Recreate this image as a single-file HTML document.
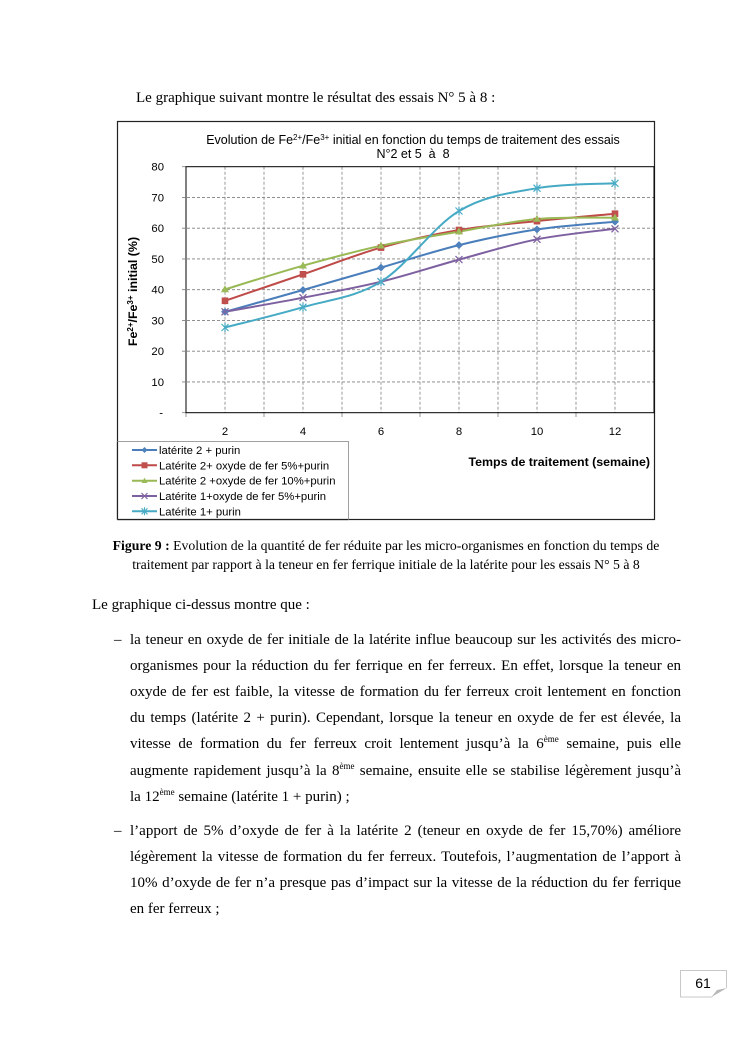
<!DOCTYPE html>
<html>
<head>
<meta charset="utf-8">
<style>
html,body{margin:0;padding:0;background:#fff;}
#page{position:relative;width:744px;height:1053px;overflow:hidden;background:#fff;}
.t{position:absolute;font-family:"Liberation Serif","Times New Roman",serif;font-size:15px;line-height:20px;color:#000;white-space:nowrap;}
.j{position:absolute;font-family:"Liberation Serif","Times New Roman",serif;font-size:15px;line-height:20px;color:#000;width:551px;left:130px;text-align:justify;text-align-last:justify;}
.l{position:absolute;font-family:"Liberation Serif","Times New Roman",serif;font-size:15px;line-height:20px;color:#000;left:130px;white-space:nowrap;}
.cap{position:absolute;font-family:"Liberation Serif","Times New Roman",serif;font-size:13.75px;line-height:18px;color:#000;left:86px;width:600px;text-align:center;white-space:nowrap;}
sup{font-size:9px;line-height:0;vertical-align:6px;}
.d{position:absolute;left:114px;font-family:"Liberation Serif",serif;font-size:15px;line-height:20px;}
svg{position:absolute;left:0;top:0;}
</style>
</head>
<body>
<div id="page">
<svg width="744" height="1053" viewBox="0 0 744 1053" xmlns="http://www.w3.org/2000/svg">
  <!-- chart frame -->
  <rect x="117.5" y="121.5" width="537" height="398" fill="#fff" stroke="#222" stroke-width="1.2"/>
  <!-- title -->
  <g font-family="Liberation Sans, Arial, sans-serif" font-size="12.5" fill="#000" text-anchor="middle">
    <text x="413" y="144">Evolution de Fe<tspan font-size="8" dy="-4">2+</tspan><tspan dy="4">/Fe</tspan><tspan font-size="8" dy="-4">3+</tspan><tspan dy="4"> initial en fonction du temps de traitement des essais</tspan></text>
    <text x="413" y="158" xml:space="preserve">N°2 et 5  à  8</text>
  </g>
  <!-- gridlines horizontal -->
  <g stroke="#808080" stroke-width="0.8" stroke-dasharray="3,2" fill="none">
    <line x1="182" y1="381.95" x2="654" y2="381.95"/>
    <line x1="182" y1="351.2" x2="654" y2="351.2"/>
    <line x1="182" y1="320.45" x2="654" y2="320.45"/>
    <line x1="182" y1="289.7" x2="654" y2="289.7"/>
    <line x1="182" y1="258.95" x2="654" y2="258.95"/>
    <line x1="182" y1="228.2" x2="654" y2="228.2"/>
    <line x1="182" y1="197.45" x2="654" y2="197.45"/>
    <line x1="225" y1="166.7" x2="225" y2="412.7"/>
    <line x1="264" y1="166.7" x2="264" y2="412.7"/>
    <line x1="303" y1="166.7" x2="303" y2="412.7"/>
    <line x1="342" y1="166.7" x2="342" y2="412.7"/>
    <line x1="381" y1="166.7" x2="381" y2="412.7"/>
    <line x1="420" y1="166.7" x2="420" y2="412.7"/>
    <line x1="459" y1="166.7" x2="459" y2="412.7"/>
    <line x1="498" y1="166.7" x2="498" y2="412.7"/>
    <line x1="537" y1="166.7" x2="537" y2="412.7"/>
    <line x1="576" y1="166.7" x2="576" y2="412.7"/>
    <line x1="615" y1="166.7" x2="615" y2="412.7"/>
  </g>
  <!-- ticks -->
  <g stroke="#808080" stroke-width="0.8">
    <line x1="182" y1="166.7" x2="186" y2="166.7"/>
    <line x1="182" y1="412.7" x2="186" y2="412.7"/>
    <line x1="186" y1="412.7" x2="186" y2="417"/>
    <line x1="264" y1="412.7" x2="264" y2="417"/>
    <line x1="342" y1="412.7" x2="342" y2="417"/>
    <line x1="420" y1="412.7" x2="420" y2="417"/>
    <line x1="498" y1="412.7" x2="498" y2="417"/>
    <line x1="576" y1="412.7" x2="576" y2="417"/>
  </g>
  <!-- plot area border -->
  <rect x="186" y="166.7" width="468" height="246" fill="none" stroke="#000" stroke-width="1"/>
  <!-- y labels -->
  <g font-family="Liberation Sans, Arial, sans-serif" font-size="11.3" fill="#000" text-anchor="end">
    <text x="164" y="170.7">80</text>
    <text x="164" y="201.5">70</text>
    <text x="164" y="232.2">60</text>
    <text x="164" y="263">50</text>
    <text x="164" y="293.7">40</text>
    <text x="164" y="324.5">30</text>
    <text x="164" y="355.2">20</text>
    <text x="164" y="386">10</text>
    <text x="163" y="416.7">-</text>
  </g>
  <!-- x labels -->
  <g font-family="Liberation Sans, Arial, sans-serif" font-size="11.3" fill="#000" text-anchor="middle">
    <text x="225" y="435">2</text>
    <text x="303" y="435">4</text>
    <text x="381" y="435">6</text>
    <text x="459" y="435">8</text>
    <text x="537" y="435">10</text>
    <text x="615" y="435">12</text>
  </g>
  <!-- axis titles -->
  <text x="650" y="466" font-family="Liberation Sans, Arial, sans-serif" font-size="12.4" font-weight="bold" text-anchor="end">Temps de traitement (semaine)</text>
  <text transform="translate(137,291.5) rotate(-90)" font-family="Liberation Sans, Arial, sans-serif" font-size="12.4" font-weight="bold" text-anchor="middle">Fe<tspan font-size="8" dy="-4">2+</tspan><tspan dy="4">/Fe</tspan><tspan font-size="8" dy="-4">3+</tspan><tspan dy="4"> initial (%)</tspan></text>

  <!-- series lines -->
  <g fill="none" stroke-width="2" stroke-linejoin="round" stroke-linecap="round">
    <path stroke="#4A7EBB" d="M225,311.8 C238,308.17 277,297.37 303,290.0 C329,282.63 355,275.08 381,267.6 C407,260.12 433,251.47 459,245.1 C485,238.73 511,233.3 537,229.4 C563,225.5 602,222.98 615,221.7"/>
    <path stroke="#BE4B48" d="M225,300.8 C238,296.38 277,283.17 303,274.3 C329,265.43 355,254.98 381,247.6 C407,240.22 433,234.42 459,230.0 C485,225.58 511,223.82 537,221.1 C563,218.38 602,214.93 615,213.7"/>
    <path stroke="#98B954" d="M225,289.4 C238,285.45 277,272.98 303,265.7 C329,258.42 355,251.38 381,245.7 C407,240.02 433,236.05 459,231.6 C485,227.15 511,221.32 537,219.0 C563,216.68 602,217.92 615,217.7"/>
    <path stroke="#7D60A0" d="M225,311.8 C238,309.45 277,302.72 303,297.7 C329,292.68 355,288.05 381,281.7 C407,275.35 433,266.67 459,259.6 C485,252.53 511,244.43 537,239.3 C563,234.17 602,230.55 615,228.8"/>
    <path stroke="#46AAC5" d="M225,327.5 C238,324.12 277,314.83 303,307.2 C329,299.57 355,297.73 381,281.7 C407,265.67 433,226.58 459,211.0 C485,195.42 511,192.82 537,188.2 C563,183.58 602,184.12 615,183.3"/>
  </g>
  <!-- markers blue diamonds -->
  <g fill="#4F81BD" stroke="#4A7EBB" stroke-width="0.6">
    <polygon points="225,308.3 228.5,311.8 225,315.3 221.5,311.8"/>
    <polygon points="303,286.5 306.5,290 303,293.5 299.5,290"/>
    <polygon points="381,264.1 384.5,267.6 381,271.1 377.5,267.6"/>
    <polygon points="459,241.6 462.5,245.1 459,248.6 455.5,245.1"/>
    <polygon points="537,225.9 540.5,229.4 537,232.9 533.5,229.4"/>
    <polygon points="615,218.2 618.5,221.7 615,225.2 611.5,221.7"/>
  </g>
  <!-- red squares -->
  <g fill="#C0504D" stroke="#BE4B48" stroke-width="0.6">
    <rect x="222" y="297.8" width="6" height="6"/>
    <rect x="300" y="271.3" width="6" height="6"/>
    <rect x="378" y="244.6" width="6" height="6"/>
    <rect x="456" y="227" width="6" height="6"/>
    <rect x="534" y="218.1" width="6" height="6"/>
    <rect x="612" y="210.7" width="6" height="6"/>
  </g>
  <!-- green triangles -->
  <g fill="#9BBB59" stroke="#98B954" stroke-width="0.6">
    <polygon points="225,285.9 228.5,291.9 221.5,291.9"/>
    <polygon points="303,262.2 306.5,268.2 299.5,268.2"/>
    <polygon points="381,242.2 384.5,248.2 377.5,248.2"/>
    <polygon points="459,228.1 462.5,234.1 455.5,234.1"/>
    <polygon points="537,215.5 540.5,221.5 533.5,221.5"/>
    <polygon points="615,214.2 618.5,220.2 611.5,220.2"/>
  </g>
  <!-- purple X -->
  <g stroke="#8064A2" stroke-width="1.3" fill="none">
    <path d="M221.5,308.3 L228.5,315.3 M228.5,308.3 L221.5,315.3"/>
    <path d="M299.5,294.2 L306.5,301.2 M306.5,294.2 L299.5,301.2"/>
    <path d="M377.5,278.2 L384.5,285.2 M384.5,278.2 L377.5,285.2"/>
    <path d="M455.5,256.1 L462.5,263.1 M462.5,256.1 L455.5,263.1"/>
    <path d="M533.5,235.8 L540.5,242.8 M540.5,235.8 L533.5,242.8"/>
    <path d="M611.5,225.3 L618.5,232.3 M618.5,225.3 L611.5,232.3"/>
  </g>
  <!-- cyan asterisks -->
  <g stroke="#4BACC6" stroke-width="1.2" fill="none">
    <path d="M221.5,324 L228.5,331 M228.5,324 L221.5,331 M225,323 L225,332"/>
    <path d="M299.5,303.7 L306.5,310.7 M306.5,303.7 L299.5,310.7 M303,302.7 L303,311.7"/>
    <path d="M377.5,278.2 L384.5,285.2 M384.5,278.2 L377.5,285.2 M381,277.2 L381,286.2"/>
    <path d="M455.5,207.5 L462.5,214.5 M462.5,207.5 L455.5,214.5 M459,206.5 L459,215.5"/>
    <path d="M533.5,184.7 L540.5,191.7 M540.5,184.7 L533.5,191.7 M537,183.7 L537,192.7"/>
    <path d="M611.5,179.8 L618.5,186.8 M618.5,179.8 L611.5,186.8 M615,178.8 L615,187.8"/>
  </g>

  <!-- legend -->
  <rect x="117.5" y="441.5" width="231" height="78" fill="#fff" stroke="#a0a0a0" stroke-width="1"/>
  <line x1="117.5" y1="519.5" x2="348.5" y2="519.5" stroke="#222" stroke-width="1.2"/>
  <line x1="117.5" y1="441.5" x2="117.5" y2="519.5" stroke="#222" stroke-width="1.2"/>
  <g stroke-width="2">
    <line x1="132" y1="450" x2="157" y2="450" stroke="#4A7EBB"/>
    <line x1="132" y1="465.3" x2="157" y2="465.3" stroke="#BE4B48"/>
    <line x1="132" y1="480.7" x2="157" y2="480.7" stroke="#98B954"/>
    <line x1="132" y1="496" x2="157" y2="496" stroke="#7D60A0"/>
    <line x1="132" y1="511.3" x2="157" y2="511.3" stroke="#46AAC5"/>
  </g>
  <polygon points="144.5,447 147.5,450 144.5,453 141.5,450" fill="#4F81BD"/>
  <rect x="141.5" y="462.3" width="6" height="6" fill="#C0504D"/>
  <polygon points="144.5,477.7 147.5,483 141.5,483" fill="#9BBB59"/>
  <path d="M141.5,493 L147.5,499 M147.5,493 L141.5,499" stroke="#8064A2" stroke-width="1.2"/>
  <path d="M141.5,508.3 L147.5,514.3 M147.5,508.3 L141.5,514.3 M144.5,507.3 L144.5,515.3" stroke="#4BACC6" stroke-width="1.1"/>
  <g font-family="Liberation Sans, Arial, sans-serif" font-size="11.3" fill="#000">
    <text x="159" y="454">latérite 2 + purin</text>
    <text x="159" y="469.3">Latérite 2+ oxyde de fer 5%+purin</text>
    <text x="159" y="484.7">Latérite 2 +oxyde de fer 10%+purin</text>
    <text x="159" y="500">Latérite 1+oxyde de fer 5%+purin</text>
    <text x="159" y="515.3">Latérite 1+ purin</text>
  </g>

  <!-- page number -->
  <rect x="680.5" y="970.5" width="46" height="26.5" fill="#fff" stroke="#c8c8c8" stroke-width="1"/>
  <polygon points="711,998 728,998 728,987" fill="#fff"/>
  <polygon points="711.5,997 727,988 717,990" fill="#b8b8b8"/>
  <text x="703" y="988" font-family="Liberation Sans, Arial, sans-serif" font-size="14" text-anchor="middle" fill="#000">61</text>
</svg>

<div class="t" style="left:136px;top:88px;">Le graphique suivant montre le résultat des essais N° 5 à 8 :</div>

<div class="cap" style="top:536.5px;"><b>Figure 9 :</b> Evolution de la quantité de fer réduite par les micro-organismes en fonction du temps de</div>
<div class="cap" style="top:555.5px;">traitement par rapport à la teneur en fer ferrique initiale de la latérite pour les essais N° 5 à 8</div>

<div class="t" style="left:92px;top:595px;">Le graphique ci-dessus montre que :</div>

<div class="d" style="top:629.5px;">–</div>
<div class="j" style="top:629.5px;">la teneur en oxyde de fer initiale de la latérite influe beaucoup sur les activités des micro-</div>
<div class="j" style="top:655.7px;">organismes pour la réduction du fer ferrique en fer ferreux. En effet, lorsque la teneur en</div>
<div class="j" style="top:681.9px;">oxyde de fer est faible, la vitesse de formation du fer ferreux croit lentement en fonction</div>
<div class="j" style="top:708.1px;">du temps (latérite 2 + purin). Cependant, lorsque la teneur en oxyde de fer est élevée, la</div>
<div class="j" style="top:734.3px;">vitesse de formation du fer ferreux croit lentement jusqu’à la 6<sup>ème</sup> semaine, puis elle</div>
<div class="j" style="top:760.5px;">augmente rapidement jusqu’à la 8<sup>ème</sup> semaine, ensuite elle se stabilise légèrement jusqu’à</div>
<div class="l" style="top:786.7px;">la 12<sup>ème</sup> semaine (latérite 1 + purin) ;</div>

<div class="d" style="top:820.5px;">–</div>
<div class="j" style="top:820.5px;">l’apport de 5% d’oxyde de fer à la latérite 2 (teneur en oxyde de fer 15,70%) améliore</div>
<div class="j" style="top:846.7px;">légèrement la vitesse de formation du fer ferreux. Toutefois, l’augmentation de l’apport à</div>
<div class="j" style="top:872.9px;">10% d’oxyde de fer n’a presque pas d’impact sur la vitesse de la réduction du fer ferrique</div>
<div class="l" style="top:899.1px;">en fer ferreux ;</div>
</div>
</body>
</html>
